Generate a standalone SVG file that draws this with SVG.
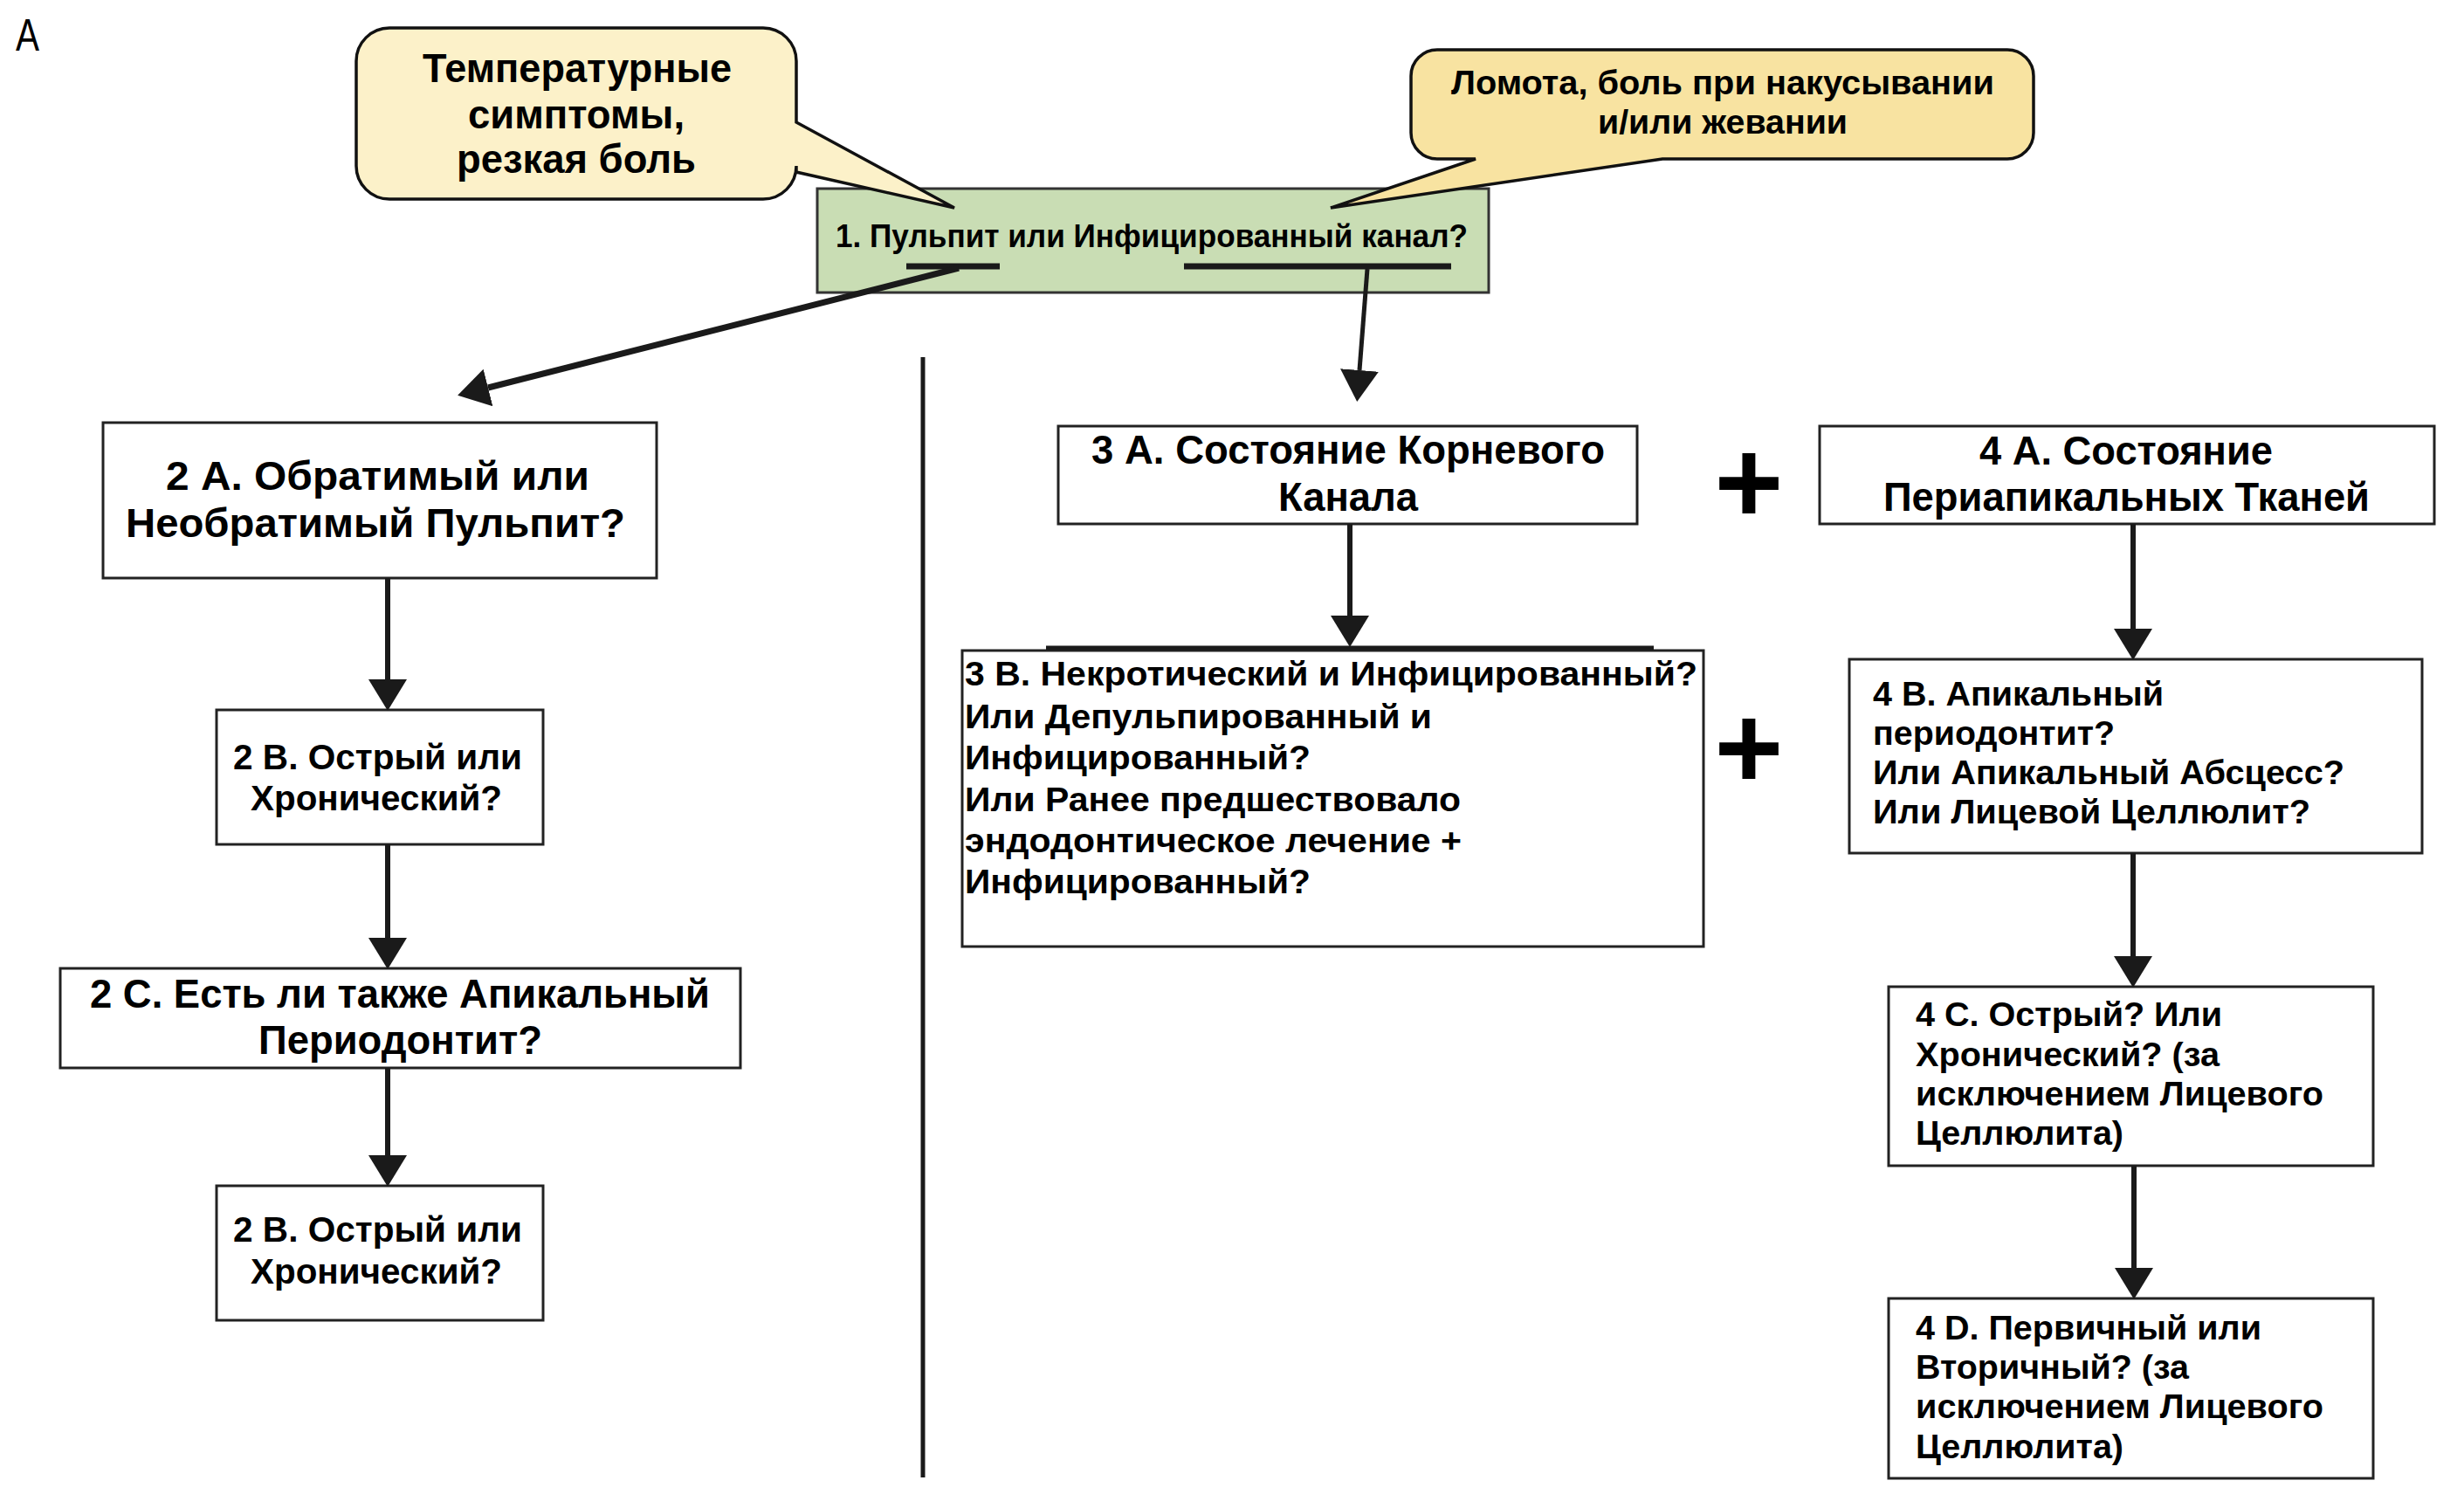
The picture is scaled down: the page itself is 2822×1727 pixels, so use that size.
<svg xmlns="http://www.w3.org/2000/svg" width="2822" height="1727" viewBox="0 0 2822 1727">
<style>
  text { font-family: "Liberation Sans", Arial, sans-serif; font-weight: bold; fill: #000; }
  .box { fill: #fff; stroke: #222; stroke-width: 3; }
  .green { fill: #c9ddb4; stroke: #333; stroke-width: 3; }
  .call1 { fill: #fcf1c9; stroke: #111; stroke-width: 3.5; stroke-linejoin: miter; }
  .call2 { fill: #f8e3a1; stroke: #111; stroke-width: 3.5; stroke-linejoin: miter; }
  .conn { stroke: #1a1a1a; stroke-width: 6; fill: none; marker-end: url(#ah); }
  .bar { stroke: #1a1a1a; stroke-width: 7; }
  .f44 { font-size: 45.5px; }
  .f40 { font-size: 41.5px; }
  .f38 { font-size: 39.5px; }
  .f35 { font-size: 36.5px; }
  .plus { font-size: 135px; text-anchor: middle; }
</style>
<defs>
  <marker id="ah" markerUnits="userSpaceOnUse" markerWidth="40" markerHeight="48" viewBox="0 -24 40 48" refX="0" refY="0" orient="auto">
    <path d="M0,-22 L36,0 L0,22 Z" fill="#1a1a1a"/>
  </marker>
</defs>
<rect width="2822" height="1727" fill="#fff"/>

<text id="label-a" x="18" y="58" style="font-weight:normal;font-size:52px" textLength="27" lengthAdjust="spacingAndGlyphs">A</text>

<g id="node-1">
  <rect class="green" x="936" y="216" width="769" height="119"/>
  <text class="f35" x="957" y="283" textLength="724" lengthAdjust="spacingAndGlyphs">1. Пульпит или Инфицированный канал?</text>
  <line class="bar" x1="1038" y1="305" x2="1145" y2="305"/>
  <line class="bar" x1="1356" y1="305" x2="1662" y2="305"/>
</g>

<g id="callout-temp">
  <path class="call1" d="M446,32 H874 A38,38 0 0 1 912,70 V140 L1093,238 L912,197 V190 A38,38 0 0 1 874,228 H446 A38,38 0 0 1 408,190 V70 A38,38 0 0 1 446,32 Z"/>
  <text class="f44" x="484" y="94" textLength="354" lengthAdjust="spacingAndGlyphs">Температурные</text>
  <text class="f44" x="536" y="147" textLength="248" lengthAdjust="spacingAndGlyphs">симптомы,</text>
  <text class="f44" x="523" y="198" textLength="274" lengthAdjust="spacingAndGlyphs">резкая боль</text>
</g>

<g id="callout-pain">
  <path class="call2" d="M1646,57 H2299 A30,30 0 0 1 2329,87 V152 A30,30 0 0 1 2299,182 H1904 L1524,238 L1690,182 H1646 A30,30 0 0 1 1616,152 V87 A30,30 0 0 1 1646,57 Z"/>
  <text class="f38" x="1662" y="108" textLength="622" lengthAdjust="spacingAndGlyphs">Ломота, боль при накусывании</text>
  <text class="f38" x="1830" y="153" textLength="286" lengthAdjust="spacingAndGlyphs">и/или жевании</text>
</g>

<g id="node-2a">
  <rect class="box" x="118" y="484" width="634" height="178"/>
  <text class="f44" x="190" y="561" textLength="485" lengthAdjust="spacingAndGlyphs">2 А. Обратимый или</text>
  <text class="f44" x="144" y="615" textLength="572" lengthAdjust="spacingAndGlyphs">Необратимый Пульпит?</text>
</g>

<g id="node-2b">
  <rect class="box" x="248" y="813" width="374" height="154"/>
  <text class="f40" x="267" y="881" textLength="331" lengthAdjust="spacingAndGlyphs">2 В. Острый или</text>
  <text class="f40" x="287" y="928" textLength="288" lengthAdjust="spacingAndGlyphs">Хронический?</text>
</g>

<g id="node-2c">
  <rect class="box" x="69" y="1109" width="779" height="114"/>
  <text class="f44" x="103" y="1154" textLength="710" lengthAdjust="spacingAndGlyphs">2 С. Есть ли также Апикальный</text>
  <text class="f44" x="296" y="1207" textLength="325" lengthAdjust="spacingAndGlyphs">Периодонтит?</text>
</g>

<g id="node-2b-2">
  <rect class="box" x="248" y="1358" width="374" height="154"/>
  <text class="f40" x="267" y="1422" textLength="331" lengthAdjust="spacingAndGlyphs">2 В. Острый или</text>
  <text class="f40" x="287" y="1470" textLength="288" lengthAdjust="spacingAndGlyphs">Хронический?</text>
</g>

<g id="node-3a">
  <rect class="box" x="1212" y="488" width="663" height="112"/>
  <text class="f44" x="1250" y="531" textLength="588" lengthAdjust="spacingAndGlyphs">3 А. Состояние Корневого</text>
  <text class="f44" x="1464" y="585" textLength="160" lengthAdjust="spacingAndGlyphs">Канала</text>
</g>

<g id="node-3b">
  <rect class="box" x="1102" y="745" width="849" height="339"/>
  <line x1="1198" y1="742" x2="1894" y2="742" stroke="#1a1a1a" stroke-width="5"/>
  <text class="f38" x="1105" y="785" textLength="839" lengthAdjust="spacingAndGlyphs">3 В. Некротический и Инфицированный?</text>
  <text class="f38" x="1105" y="834" textLength="535" lengthAdjust="spacingAndGlyphs">Или Депульпированный и</text>
  <text class="f38" x="1105" y="881" textLength="396" lengthAdjust="spacingAndGlyphs">Инфицированный?</text>
  <text class="f38" x="1105" y="929" textLength="568" lengthAdjust="spacingAndGlyphs">Или Ранее предшествовало</text>
  <text class="f38" x="1105" y="976" textLength="569" lengthAdjust="spacingAndGlyphs">эндодонтическое лечение +</text>
  <text class="f38" x="1105" y="1023" textLength="396" lengthAdjust="spacingAndGlyphs">Инфицированный?</text>
</g>

<g id="node-4a">
  <rect class="box" x="2084" y="488" width="704" height="112"/>
  <text class="f44" x="2267" y="532" textLength="336" lengthAdjust="spacingAndGlyphs">4 А. Состояние</text>
  <text class="f44" x="2157" y="585" textLength="557" lengthAdjust="spacingAndGlyphs">Периапикальных Тканей</text>
</g>

<g id="node-4b">
  <rect class="box" x="2118" y="755" width="656" height="222"/>
  <text class="f38" x="2145" y="808" textLength="333" lengthAdjust="spacingAndGlyphs">4 В. Апикальный</text>
  <text class="f38" x="2145" y="853" textLength="277" lengthAdjust="spacingAndGlyphs">периодонтит?</text>
  <text class="f38" x="2145" y="898" textLength="540" lengthAdjust="spacingAndGlyphs">Или Апикальный Абсцесс?</text>
  <text class="f38" x="2145" y="943" textLength="501" lengthAdjust="spacingAndGlyphs">Или Лицевой Целлюлит?</text>
</g>

<g id="node-4c">
  <rect class="box" x="2163" y="1130" width="555" height="205"/>
  <text class="f38" x="2194" y="1175" textLength="351" lengthAdjust="spacingAndGlyphs">4 С. Острый? Или</text>
  <text class="f38" x="2194" y="1221" textLength="348" lengthAdjust="spacingAndGlyphs">Хронический? (за</text>
  <text class="f38" x="2194" y="1266" textLength="467" lengthAdjust="spacingAndGlyphs">исключением Лицевого</text>
  <text class="f38" x="2194" y="1311" textLength="238" lengthAdjust="spacingAndGlyphs">Целлюлита)</text>
</g>

<g id="node-4d">
  <rect class="box" x="2163" y="1487" width="555" height="206"/>
  <text class="f38" x="2194" y="1534" textLength="396" lengthAdjust="spacingAndGlyphs">4 D. Первичный или</text>
  <text class="f38" x="2194" y="1579" textLength="313" lengthAdjust="spacingAndGlyphs">Вторичный? (за</text>
  <text class="f38" x="2194" y="1624" textLength="467" lengthAdjust="spacingAndGlyphs">исключением Лицевого</text>
  <text class="f38" x="2194" y="1670" textLength="238" lengthAdjust="spacingAndGlyphs">Целлюлита)</text>
</g>

<g id="plus-signs">
  <text class="plus" x="2003" y="599">+</text>
  <text class="plus" x="2003" y="903">+</text>
</g>

<g id="connectors">
  <line class="conn" style="stroke-width:7" x1="1098" y1="307" x2="559" y2="444"/>
  <line class="conn" style="stroke-width:5" x1="1566" y1="308" x2="1557" y2="424"/>
  <line class="conn" x1="444" y1="662" x2="444" y2="778"/>
  <line class="conn" x1="444" y1="967" x2="444" y2="1074"/>
  <line class="conn" x1="444" y1="1223" x2="444" y2="1323"/>
  <line class="conn" x1="1546" y1="600" x2="1546" y2="705"/>
  <line class="conn" x1="2443" y1="600" x2="2443" y2="720"/>
  <line class="conn" x1="2443" y1="977" x2="2443" y2="1095"/>
  <line class="conn" x1="2444" y1="1335" x2="2444" y2="1452"/>
  <line id="divider" x1="1057" y1="409" x2="1057" y2="1692" stroke="#1a1a1a" stroke-width="5"/>
</g>
</svg>
